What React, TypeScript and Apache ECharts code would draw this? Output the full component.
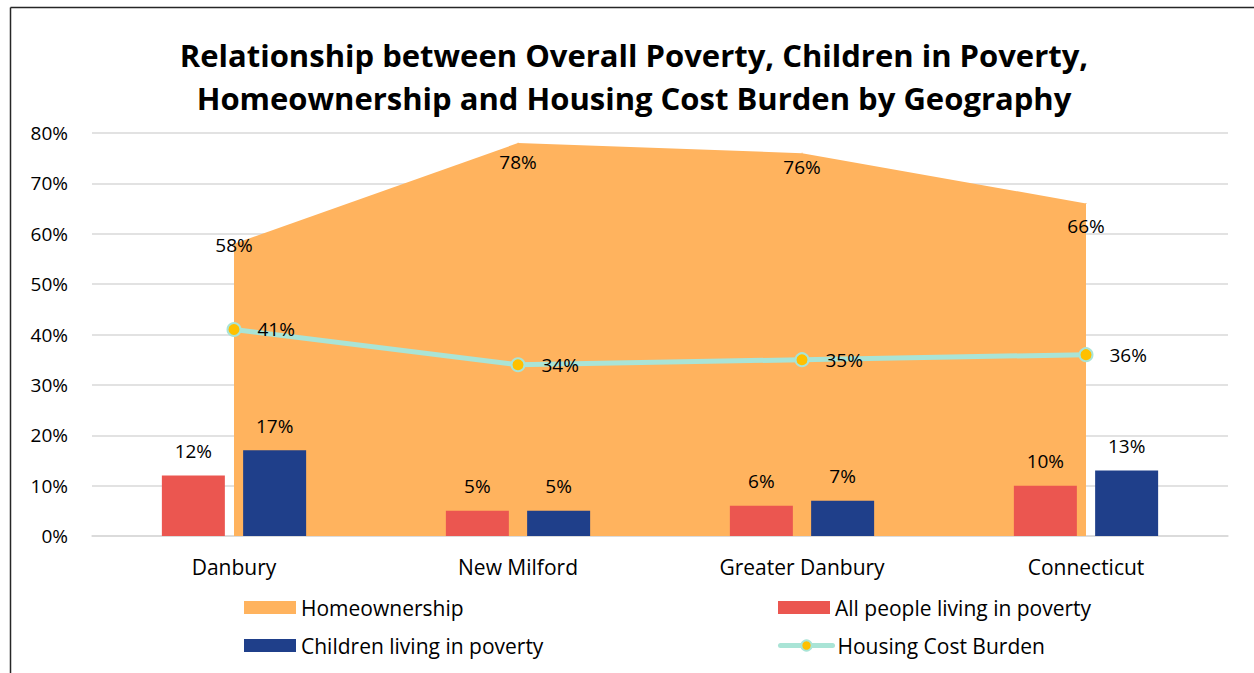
import React, { useEffect, useRef } from "react";
import * as echarts from "echarts";

const categories = ["Danbury", "New Milford", "Greater Danbury", "Connecticut"];
const homeownership = [58, 78, 76, 66];
const allPoverty = [12, 5, 6, 10];
const childPoverty = [17, 5, 7, 13];
const housingBurden = [41, 34, 35, 36];
const yTicks = [0, 10, 20, 30, 40, 50, 60, 70, 80];

const homeLabelOffsets = [-9, 9, 4, 12];

const FONT = "Open Sans";

export default function App() {
  const ref = useRef<HTMLDivElement>(null);
  useEffect(() => {
    const chart = echarts.init(ref.current!, undefined, { renderer: "svg" });
    const pct = (p: any) => `${p.value}%`;
    chart.setOption({
      animation: false,
      textStyle: { fontFamily: FONT },
      title: {
        text: "Relationship between Overall Poverty, Children in Poverty,\nHomeownership and Housing Cost Burden by Geography",
        left: 634,
        top: 33,
        padding: 0,
        textAlign: "center",
        textStyle: { fontFamily: FONT, fontSize: 31, fontWeight: "bold", color: "#000", lineHeight: 43 },
      },
      graphic: [
        { type: "line", shape: { x1: 10.5, y1: 7.5, x2: 10.5, y2: 673 }, style: { stroke: "#262626", lineWidth: 1.5 } },
        { type: "line", shape: { x1: 10.5, y1: 7.5, x2: 1254, y2: 7.5 }, style: { stroke: "#262626", lineWidth: 1.5 } },
      ],
      grid: { left: 92, right: 26, top: 133, bottom: 137, containLabel: false },
      legend: [
        { data: [{ name: "Homeownership", icon: "rect", itemStyle: { color: "#FFB35E", opacity: 1 } }], left: 244, top: 597 },
        { data: [{ name: "All people living in poverty", icon: "rect" }], left: 778, top: 597 },
        { data: [{ name: "Children living in poverty", icon: "rect" }], left: 244, top: 635 },
        {
          data: [{ name: "Housing Cost Burden", lineStyle: { width: 5, color: "#A9E4D6", cap: "round" } }],
          left: 778,
          top: 635,
        },
      ].map((l) => ({
        ...l,
        padding: 0,
        itemWidth: 52,
        itemHeight: 13,
        itemGap: 6,
        textStyle: { fontFamily: FONT, fontSize: 21, color: "#000" },
      })),
      xAxis: {
        type: "category",
        data: categories,
        boundaryGap: true,
        axisLine: { lineStyle: { color: "#D9D9D9", width: 1.5 } },
        axisTick: { show: false },
        axisLabel: { fontFamily: FONT, fontSize: 21, color: "#000", margin: 20 },
      },
      yAxis: {
        type: "value",
        min: 0,
        max: 80,
        interval: 10,
        axisLine: { show: false },
        axisTick: { show: false },
        splitLine: { lineStyle: { color: "#D9D9D9", width: 1.5 } },
        axisLabel: {
          fontFamily: FONT,
          fontSize: 19,
          color: "#000",
          margin: 24,
          formatter: (v: number) => (yTicks.includes(v) ? `${v}%` : ""),
        },
      },
      series: [
        {
          name: "Homeownership",
          type: "line",
          data: homeownership.map((v, i) => ({ value: v, label: { offset: [0, homeLabelOffsets[i]] } })),
          symbol: "circle",
          symbolSize: 1,
          showSymbol: true,
          lineStyle: { width: 0, color: "#FFB35E" },
          itemStyle: { color: "#FFB35E" },
          areaStyle: { color: "#FFB35E", opacity: 1 },
          z: 1,
          label: { show: true, position: "bottom", distance: 0, formatter: pct, fontFamily: FONT, fontSize: 19, color: "#000" },
        },
        {
          name: "All people living in poverty",
          type: "bar",
          data: allPoverty,
          barWidth: 63,
          barGap: "29%",
          itemStyle: { color: "#EB5650" },
          z: 2,
          label: { show: true, position: "top", distance: 15, formatter: pct, fontFamily: FONT, fontSize: 19, color: "#000" },
        },
        {
          name: "Children living in poverty",
          type: "bar",
          data: childPoverty,
          barWidth: 63,
          barGap: "29%",
          itemStyle: { color: "#1F3F8A" },
          z: 2,
          label: { show: true, position: "top", distance: 15, formatter: pct, fontFamily: FONT, fontSize: 19, color: "#000" },
        },
        {
          name: "Housing Cost Burden",
          type: "line",
          data: housingBurden,
          symbol: "circle",
          symbolSize: 13,
          showSymbol: true,
          lineStyle: { color: "#A9E4D6", width: 5 },
          itemStyle: { color: "#FFC000", borderColor: "#A9E4D6", borderWidth: 2 },
          z: 3,
          label: { show: true, position: "right", distance: 16, formatter: pct, fontFamily: FONT, fontSize: 19, color: "#000" },
        },
      ],
    });
    return () => chart.dispose();
  }, []);
  return <div ref={ref} style={{ position: "absolute", left: 0, top: 0, width: 1254, height: 673, background: "#fff" }} />;
}
